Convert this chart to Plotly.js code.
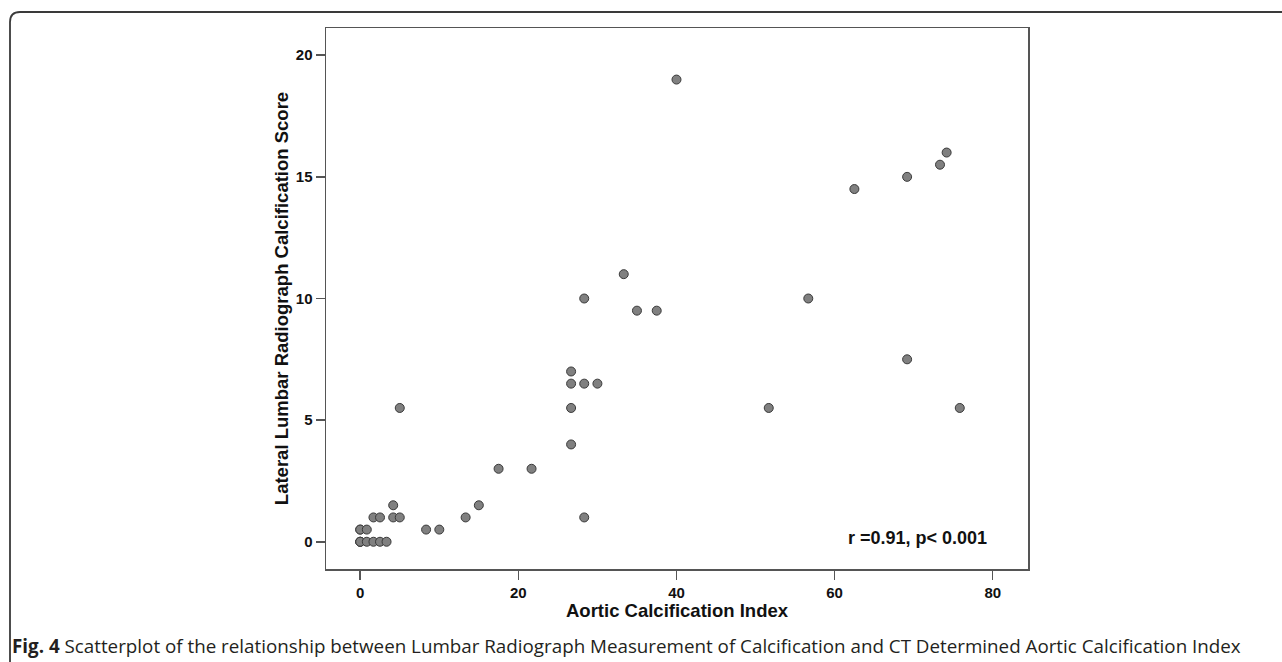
<!DOCTYPE html>
<html>
<head>
<meta charset="utf-8">
<script src="https://cdn.plot.ly/plotly-3.0.1.min.js"></script>
<style>html,body{margin:0;padding:0;background:#fff;}#chart{width:1282px;height:662px;}</style>
</head>
<body>
<div id="chart"></div>
<script>
// Aortic Calcification Index (x) vs Lateral Lumbar Radiograph Calcification Score (y)
const aorticIndex = [0, 0, 0, 0.83, 1.67, 2.5, 3.33, 0, 0, 0.83, 1.67, 2.5, 4.17, 5, 4.17,
  8.33, 10, 13.33, 15, 17.5, 21.67, 5, 26.67, 26.67, 26.67, 26.67, 28.33, 30, 28.33, 28.33,
  33.33, 35, 37.5, 40, 51.67, 56.67, 62.5, 69.17, 73.33, 74.17, 69.17, 75.83];
const lumbarScore = [0, 0, 0, 0, 0, 0, 0, 0.5, 0.5, 0.5, 1, 1, 1, 1, 1.5,
  0.5, 0.5, 1, 1.5, 3, 3, 5.5, 4, 5.5, 6.5, 7, 6.5, 6.5, 1, 10,
  11, 9.5, 9.5, 19, 5.5, 10, 14.5, 15, 15.5, 16, 7.5, 5.5];
const xTicks = [0, 20, 40, 60, 80];
const yTicks = [0, 5, 10, 15, 20];
const statText = "r =0.91, p< 0.001";
const xTitle = "Aortic Calcification Index";
const yTitle = "Lateral Lumbar Radiograph Calcification Score";
const caption = "<b>Fig. 4</b> Scatterplot of the relationship between Lumbar Radiograph Measurement of Calcification and CT Determined Aortic Calcification Index";

const W = 1282, H = 662;
const M = {l: 326, r: 254, t: 28, b: 93};
const PW = W - M.l - M.r, PH = H - M.t - M.b;
const px = v => (v - M.l) / PW;
const py = v => (H - M.b - v) / PH;

const axisFont = {family: "Liberation Sans, Arial, sans-serif", size: 15, color: "#111", weight: 700};
const titleFont = {family: "Liberation Sans, Arial, sans-serif", size: 18.5, color: "#111", weight: 700};

const trace = {
  type: "scatter", mode: "markers",
  x: aorticIndex, y: lumbarScore,
  marker: {size: 9, color: "#808080", line: {color: "#3a3a3a", width: 1}},
  hoverinfo: "x+y", showlegend: false
};

const border = "M " + px(10) + "," + py(662) + " L " + px(10) + "," + py(22) +
  " Q " + px(10) + "," + py(12) + " " + px(20) + "," + py(12) +
  " L " + px(1282) + "," + py(12);

const layout = {
  width: W, height: H,
  margin: M,
  paper_bgcolor: "#fff", plot_bgcolor: "#fff",
  showlegend: false,
  xaxis: {
    range: [-4.33, 84.46], tickvals: xTicks, ticktext: xTicks.map(String),
    ticks: "outside", ticklen: 9, tickwidth: 1.5, tickcolor: "#555",
    showline: true, mirror: true, linecolor: "#555", linewidth: 1.5,
    showgrid: false, zeroline: false, tickfont: axisFont,
    title: {text: xTitle, font: titleFont, standoff: 1}
  },
  yaxis: {
    range: [-1.12, 21.12], tickvals: yTicks, ticktext: yTicks.map(String),
    ticks: "outside", ticklen: 9, tickwidth: 1.5, tickcolor: "#555",
    showline: true, mirror: true, linecolor: "#555", linewidth: 1.5,
    showgrid: false, zeroline: false, tickfont: axisFont,
    title: {text: yTitle, font: titleFont, standoff: 2}
  },
  annotations: [
    {xref: "paper", yref: "paper", x: px(917), y: py(538), xanchor: "center", yanchor: "middle",
     text: statText, showarrow: false, font: {family: "Liberation Sans, Arial, sans-serif", size: 18, color: "#111", weight: 700}},
    {xref: "paper", yref: "paper", x: px(10), y: py(646), xanchor: "left", yanchor: "middle",
     text: caption, showarrow: false, font: {family: "Open Sans, sans-serif", size: 18.8, color: "#231f20"}}
  ],
  shapes: [
    {type: "path", xref: "paper", yref: "paper", path: border, line: {color: "#3a3a3a", width: 1.8}}
  ]
};

Plotly.newPlot("chart", [trace], layout, {displayModeBar: false, staticPlot: true});
</script>
</body>
</html>
